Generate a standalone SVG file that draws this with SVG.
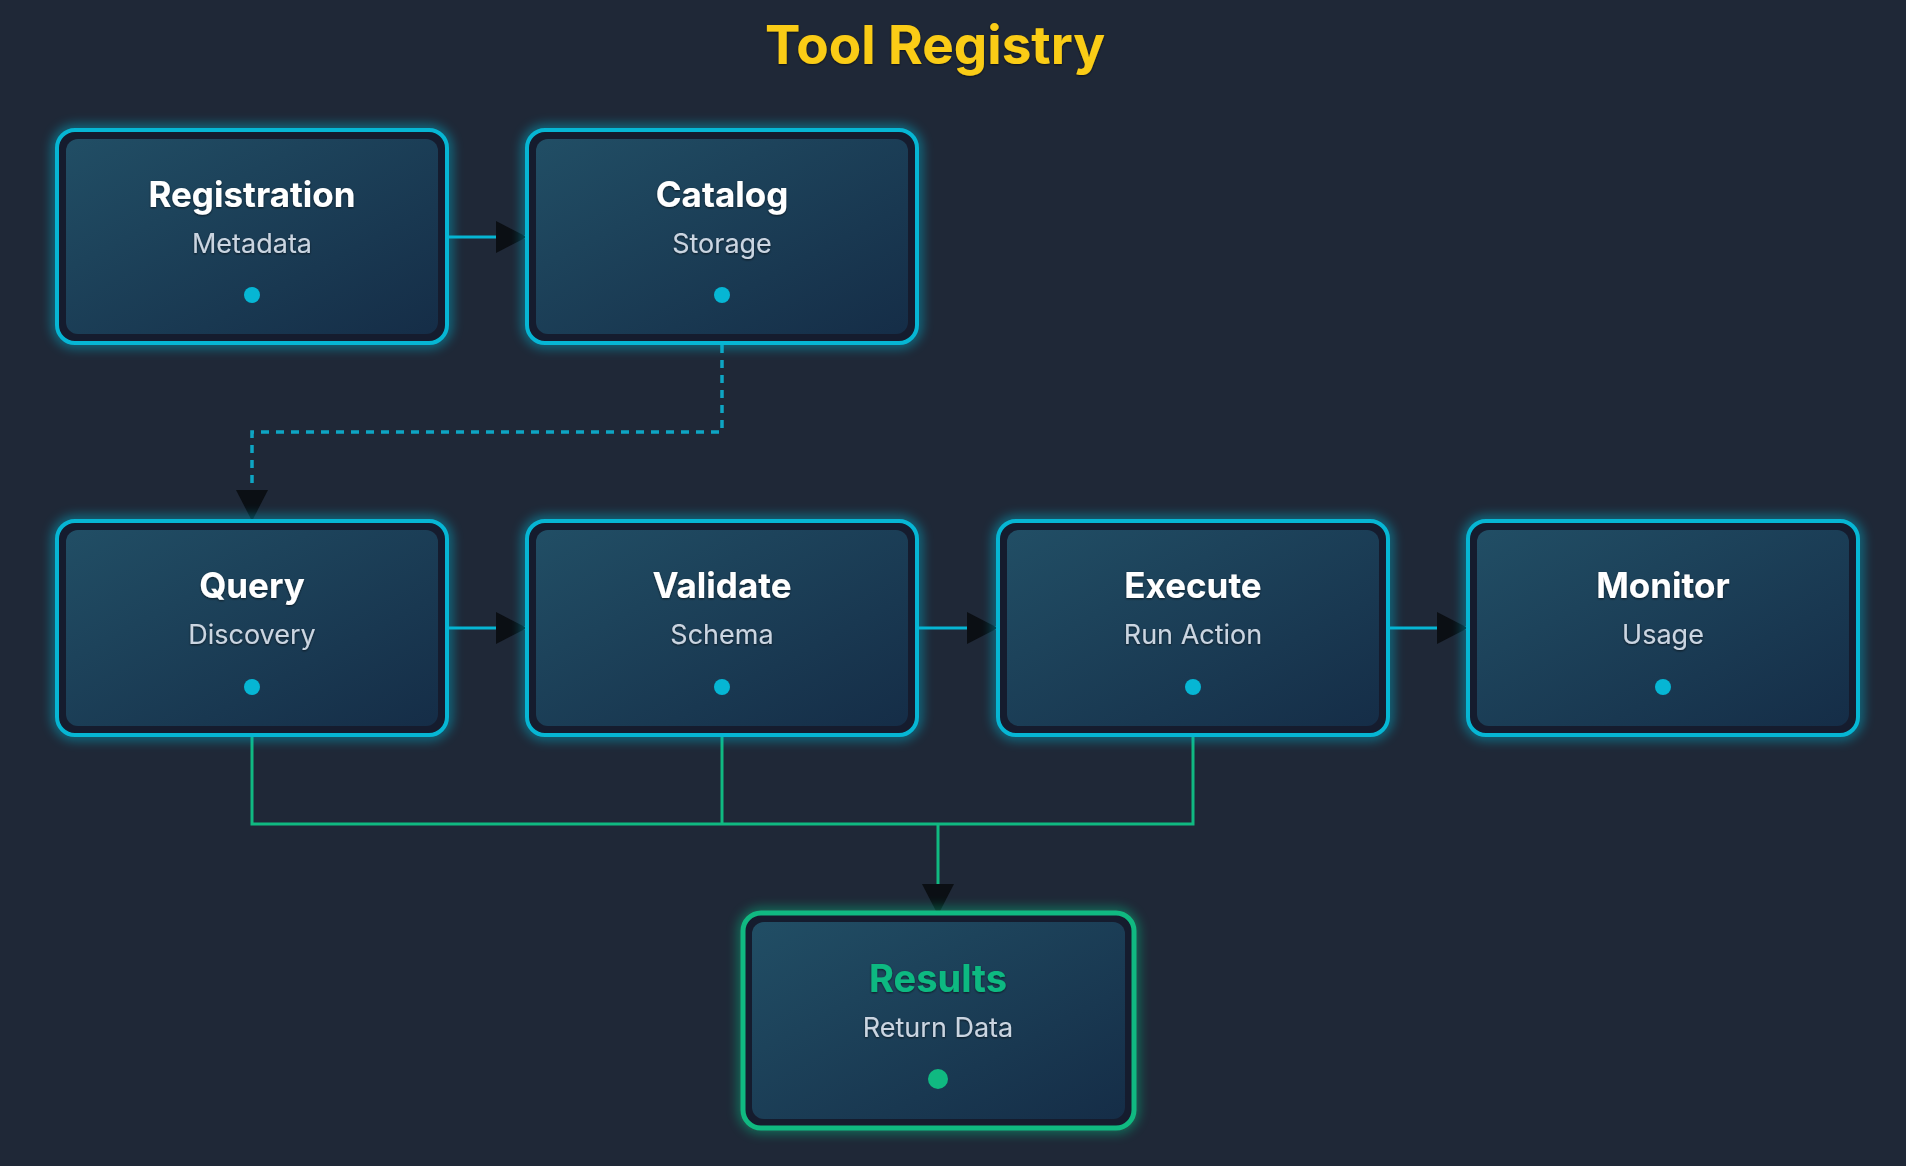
<svg xmlns="http://www.w3.org/2000/svg" width="1906" height="1166" viewBox="0 0 1906 1166">
  <style>
    .title { font-family: Inter, "Noto Sans", "Liberation Sans", sans-serif; font-weight: 700; font-size: 35px; fill: #ffffff; text-anchor: middle; }
    .title.big { font-size: 38px; fill: #10b981; }
    .sub { font-family: Inter, "Noto Sans", "Liberation Sans", sans-serif; font-weight: 400; font-size: 27px; fill: #cbd5e1; text-anchor: middle; }
    .outer { fill: #151c2e; stroke: #06b6d4; stroke-width: 4; }
    .outer.green { stroke: #10b981; stroke-width: 5; }
    .glow { fill: none; stroke: #06b6d4; stroke-width: 9; opacity: 0.6; }
    .glow.green { stroke: #10b981; }
    .inner { fill: url(#innerGrad); }
    .dot { fill: #06b6d4; }
    .dot.green { fill: #10b981; }
    .conn { fill: none; stroke: #06b6d4; stroke-width: 3; }
    .dash { fill: none; stroke: #0ea5c4; stroke-width: 3.5; stroke-dasharray: 8 7; }
    .gconn { fill: none; stroke: #10b981; stroke-width: 3; }
  </style>
  <defs>
    <linearGradient id="innerGrad" x1="0" y1="0" x2="1" y2="1">
      <stop offset="0" stop-color="#214e65"/>
      <stop offset="1" stop-color="#152d47"/>
    </linearGradient>
    <filter id="blur" x="-20%" y="-20%" width="140%" height="140%">
      <feGaussianBlur stdDeviation="6"/>
    </filter>
    <filter id="tshadow" x="-10%" y="-30%" width="120%" height="160%">
      <feDropShadow dx="0" dy="1" stdDeviation="1" flood-color="#000000" flood-opacity="0.6"/>
    </filter>
    <marker id="arrow" markerUnits="userSpaceOnUse" markerWidth="34" markerHeight="34" refX="31" refY="16" orient="auto">
      <path d="M0,0 L31,16 L0,32 Z" fill="#0b0f14"/>
    </marker>
  </defs>
  <rect x="0" y="0" width="1906" height="1166" fill="#1f2837"/>
  <text x="935" y="64" font-family="Inter, 'Noto Sans', 'Liberation Sans', sans-serif" font-weight="700" font-size="53" fill="#facc15" text-anchor="middle" filter="url(#tshadow)">Tool Registry</text>

  <g id="connectors">
    <path class="conn" d="M449,237 L527,237" marker-end="url(#arrow)"/>
    <path class="dash" d="M722,345 L722,432 L252,432 L252,521" marker-end="url(#arrow)"/>
    <path class="conn" d="M449,628 L527,628" marker-end="url(#arrow)"/>
    <path class="conn" d="M919,628 L998,628" marker-end="url(#arrow)"/>
    <path class="conn" d="M1389,628 L1468,628" marker-end="url(#arrow)"/>
    <path class="gconn" d="M252,737 L252,824 L1193,824 L1193,737"/>
    <path class="gconn" d="M722,737 L722,824"/>
    <path class="gconn" d="M938,824 L938,915" marker-end="url(#arrow)"/>
  </g>

  <g id="registration">
    <rect class="glow" x="57" y="130" width="390" height="213" rx="18" filter="url(#blur)"/>
    <rect class="outer" x="57" y="130" width="390" height="213" rx="18"/>
    <rect class="inner" x="66" y="139" width="372" height="195" rx="12"/>
    <text class="title" x="252" y="207" filter="url(#tshadow)">Registration</text>
    <text class="sub" x="252" y="253" filter="url(#tshadow)">Metadata</text>
    <circle class="dot" cx="252" cy="295" r="8"/>
  </g>
  <g id="catalog">
    <rect class="glow" x="527" y="130" width="390" height="213" rx="18" filter="url(#blur)"/>
    <rect class="outer" x="527" y="130" width="390" height="213" rx="18"/>
    <rect class="inner" x="536" y="139" width="372" height="195" rx="12"/>
    <text class="title" x="722" y="207" filter="url(#tshadow)">Catalog</text>
    <text class="sub" x="722" y="253" filter="url(#tshadow)">Storage</text>
    <circle class="dot" cx="722" cy="295" r="8"/>
  </g>
  <g id="query">
    <rect class="glow" x="57" y="521" width="390" height="214" rx="18" filter="url(#blur)"/>
    <rect class="outer" x="57" y="521" width="390" height="214" rx="18"/>
    <rect class="inner" x="66" y="530" width="372" height="196" rx="12"/>
    <text class="title" x="252" y="598" filter="url(#tshadow)">Query</text>
    <text class="sub" x="252" y="644" filter="url(#tshadow)">Discovery</text>
    <circle class="dot" cx="252" cy="687" r="8"/>
  </g>
  <g id="validate">
    <rect class="glow" x="527" y="521" width="390" height="214" rx="18" filter="url(#blur)"/>
    <rect class="outer" x="527" y="521" width="390" height="214" rx="18"/>
    <rect class="inner" x="536" y="530" width="372" height="196" rx="12"/>
    <text class="title" x="722" y="598" filter="url(#tshadow)">Validate</text>
    <text class="sub" x="722" y="644" filter="url(#tshadow)">Schema</text>
    <circle class="dot" cx="722" cy="687" r="8"/>
  </g>
  <g id="execute">
    <rect class="glow" x="998" y="521" width="390" height="214" rx="18" filter="url(#blur)"/>
    <rect class="outer" x="998" y="521" width="390" height="214" rx="18"/>
    <rect class="inner" x="1007" y="530" width="372" height="196" rx="12"/>
    <text class="title" x="1193" y="598" filter="url(#tshadow)">Execute</text>
    <text class="sub" x="1193" y="644" filter="url(#tshadow)">Run Action</text>
    <circle class="dot" cx="1193" cy="687" r="8"/>
  </g>
  <g id="monitor">
    <rect class="glow" x="1468" y="521" width="390" height="214" rx="18" filter="url(#blur)"/>
    <rect class="outer" x="1468" y="521" width="390" height="214" rx="18"/>
    <rect class="inner" x="1477" y="530" width="372" height="196" rx="12"/>
    <text class="title" x="1663" y="598" filter="url(#tshadow)">Monitor</text>
    <text class="sub" x="1663" y="644" filter="url(#tshadow)">Usage</text>
    <circle class="dot" cx="1663" cy="687" r="8"/>
  </g>
  <g id="results">
    <rect class="glow green" x="743" y="913" width="391" height="215" rx="18" filter="url(#blur)"/>
    <rect class="outer green" x="743" y="913" width="391" height="215" rx="18"/>
    <rect class="inner" x="752" y="922" width="373" height="197" rx="12"/>
    <text class="title big" x="938" y="992" filter="url(#tshadow)">Results</text>
    <text class="sub" x="938" y="1037" filter="url(#tshadow)">Return Data</text>
    <circle class="dot green" cx="938" cy="1079" r="10"/>
  </g>
</svg>
